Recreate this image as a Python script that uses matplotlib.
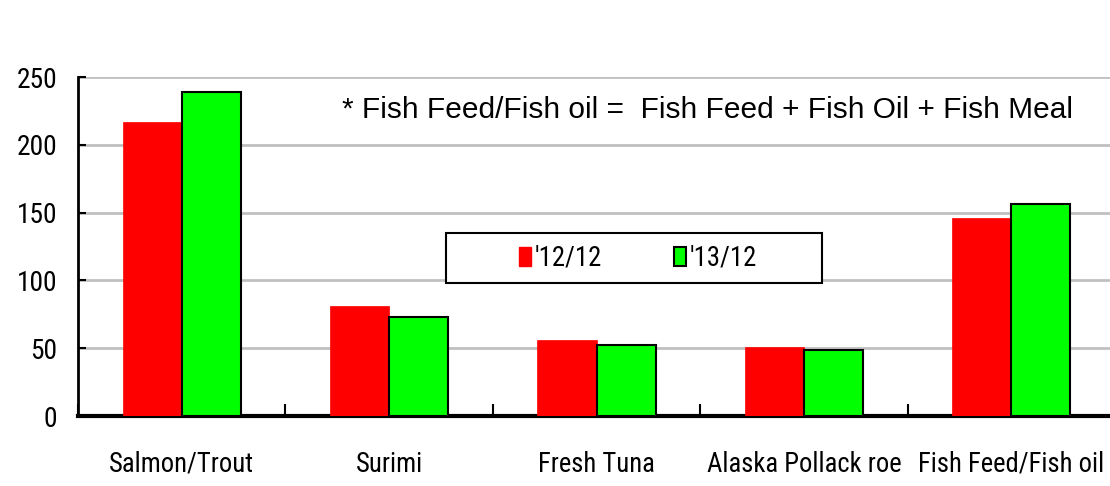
import matplotlib
matplotlib.use("Agg")
import matplotlib.pyplot as plt
import numpy as np
from matplotlib.patches import Patch, Rectangle
from matplotlib import font_manager
from matplotlib.textpath import TextPath
from matplotlib.font_manager import FontProperties

categories = ["Salmon/Trout", "Surimi", "Fresh Tuna", "Alaska Pollack roe", "Fish Feed/Fish oil"]
series_labels = ["'12/12", "'13/12"]
values_12 = [217, 81, 56, 51, 146]
values_13 = [239, 73, 52, 49, 156]
yticks = [0, 50, 100, 150, 200, 250]
note = "* Fish Feed/Fish oil =  Fish Feed + Fish Oil + Fish Meal"

names = {f.name for f in font_manager.fontManager.ttflist}
narrow = next((n for n in ["Roboto Condensed", "Archivo Narrow", "Fira Sans Extra Condensed",
                           "Liberation Sans"] if n in names), "DejaVu Sans")
regular = "Liberation Sans"

# choose size so that the first category label is about as wide as in the reference
tp = TextPath((0, 0), categories[0], size=20, prop=FontProperties(family=narrow))
wpt = tp.get_extents().width
nsize = 20 * (143 / (100 / 72)) / wpt

fig = plt.figure(figsize=(11.1, 4.86), dpi=100)
ax = fig.add_axes([78/1110, 1-416/486, (1115-78)/1110, (416-77)/486])

x = np.arange(len(categories))
w = 0.285
ax.bar(x - w/2, values_12, w, color="#ff0000", edgecolor="#ff0000", linewidth=0.5, zorder=3)
ax.bar(x + w/2, values_13, w, color="#00ff00", edgecolor="black", linewidth=1.5, zorder=3)

ax.set_xlim(-0.5, len(categories) - 0.5)
ax.set_ylim(0, 250)
ax.set_yticks(yticks)
ax.set_yticklabels([str(v) for v in yticks], fontfamily=narrow, fontsize=nsize * 1.03)
ax.yaxis.grid(True, color="#c0c0c0", linewidth=2, zorder=0)
ax.set_axisbelow(True)
ax.tick_params(axis="y", direction="in", length=6, width=1.5, pad=15)

ax.set_xticks(np.arange(len(categories) + 1) - 0.5, minor=True)
ax.set_xticks(x)
ax.set_xticklabels(categories, fontfamily=narrow, fontsize=nsize)
ax.tick_params(axis="x", which="major", length=0, pad=25)
ax.tick_params(axis="x", which="minor", direction="in", length=9, width=1.5)

for s in ["top", "right"]:
    ax.spines[s].set_visible(False)
ax.spines["left"].set_linewidth(2)
ax.spines["bottom"].set_linewidth(3)

ax.text((342-78)/1037, 0.945, note, transform=ax.transAxes, fontfamily=regular, fontsize=21.5,
        ha="left", va="top")

# legend frame box
box = Rectangle((446/1110, 1-283/486), (822-446)/1110, 50/486, transform=fig.transFigure,
                facecolor="white", edgecolor="black", linewidth=1.5, zorder=4)
fig.patches.append(box)

handles = [Patch(facecolor="#ff0000", edgecolor="#ff0000"),
           Patch(facecolor="#00ff00", edgecolor="black", linewidth=1.5)]
leg = fig.legend(handles, series_labels, loc="center", bbox_to_anchor=(638/1110, 1-258/486),
                 ncol=2, frameon=False,
                 prop={"family": narrow, "size": nsize}, handlelength=0.44, handleheight=0.72,
                 handletextpad=0.15, columnspacing=2.7, borderpad=0.2,
                 borderaxespad=0)
leg.set_zorder(5)

fig.savefig("out.png", dpi=100)
